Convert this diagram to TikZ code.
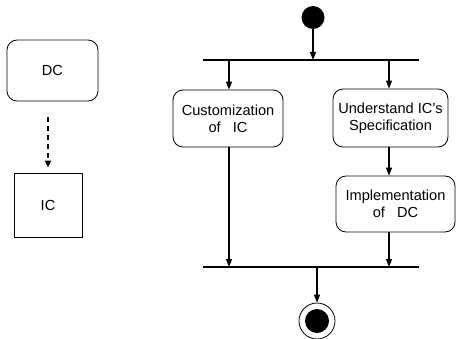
\documentclass[tikz,border=0pt]{standalone}
\usepackage{fontspec}
\setmainfont{Liberation Sans}
\usetikzlibrary{arrows.meta,calc}
\begin{document}
\begin{tikzpicture}[x=1pt,y=-1pt,
  font=\fontsize{14.6}{17}\selectfont,
  act/.style={draw, line width=0.8pt, rounded corners=10pt, align=center, inner sep=0pt},
  obj/.style={draw, line width=0.8pt, inner sep=0pt},
  bar/.style={line width=1.8pt},
  flow/.style={line width=1.4pt, -{Triangle[length=8pt,width=6pt]}},
  dep/.style={line width=1.8pt, dash pattern=on 5pt off 4pt, -{Triangle[length=7pt,width=6pt]}}]
\useasboundingbox (0,0) rectangle (457,339);
% object nodes on the left
\node[act, minimum width=91pt, minimum height=61pt] (dc) at (52.5,70.5) {DC};
\node[obj, minimum width=68pt, minimum height=64pt] (ic) at (48,205) {IC};
\draw[dep] ($(dc.south)+(-4.5,16)$) -- ($(ic.north)+(0,-5)$);
% activity flow
\node[circle, fill, minimum size=23pt, inner sep=0pt] (st) at (313,17.5) {};
\coordinate (fl) at (203,60);
\coordinate (fr) at (419,60);
\coordinate (jl) at (203,267);
\coordinate (jr) at (419,267);
\draw[bar] (fl) -- (fr);
\draw[bar] (jl) -- (jr);
\node[act, minimum width=110pt, minimum height=57pt] (cust) at (228,118.5) {Customization\\of\ \ \ IC};
\node[act, minimum width=115pt, minimum height=58pt] (und) at (390.5,118) {Understand IC’s\\Specification};
\node[act, minimum width=119pt, minimum height=56pt] (impl) at (395.5,204) {Implementation\\of\ \ \ DC};
\node[circle, draw, line width=0.8pt, minimum size=36pt, inner sep=0pt] (fin) at (317,321) {};
\node[circle, fill, minimum size=24pt, inner sep=0pt] (finc) at (fin.center) {};
\coordinate (f0) at (313,60);
\coordinate (f1) at (229,60);
\coordinate (f2) at (389,60);
\coordinate (j1) at (229,267);
\coordinate (j2) at (389,267);
\coordinate (j0) at (317,267);
\draw[flow] (st.south) -- (f0);
\draw[flow] (f1) -- (cust.north -| f1);
\draw[flow] (f2) -- (und.north -| f2);
\draw[flow] (und.south -| f2) -- (impl.north -| f2);
\draw[flow] (cust.south -| j1) -- (j1);
\draw[flow] (impl.south -| j2) -- (j2);
\draw[flow] (j0) -- (fin.north);
\end{tikzpicture}
\end{document}
